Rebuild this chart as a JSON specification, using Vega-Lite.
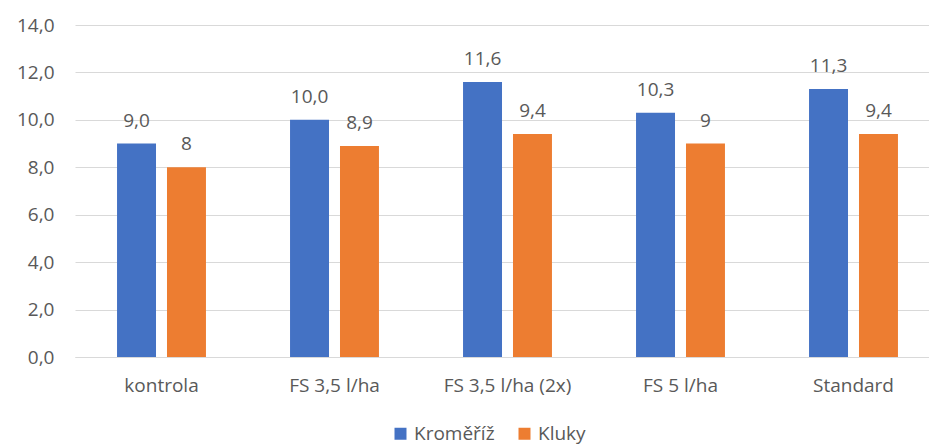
{
  "$schema": "https://vega.github.io/schema/vega-lite/v6.json",
  "width": 854,
  "height": 332,
  "autosize": {"type": "none"},
  "padding": {"left": 75, "top": 25, "right": 0, "bottom": 88},
  "background": "white",
  "config": {
    "font": "Open Sans",
    "view": {"stroke": null}
  },
  "data": {
    "values": [
      {"treatment": "kontrola", "site": "Kroměříž", "value": 9.0, "label": "9,0"},
      {"treatment": "kontrola", "site": "Kluky", "value": 8.0, "label": "8"},
      {"treatment": "FS 3,5 l/ha", "site": "Kroměříž", "value": 10.0, "label": "10,0"},
      {"treatment": "FS 3,5 l/ha", "site": "Kluky", "value": 8.9, "label": "8,9"},
      {"treatment": "FS 3,5 l/ha (2x)", "site": "Kroměříž", "value": 11.6, "label": "11,6"},
      {"treatment": "FS 3,5 l/ha (2x)", "site": "Kluky", "value": 9.4, "label": "9,4"},
      {"treatment": "FS 5 l/ha", "site": "Kroměříž", "value": 10.3, "label": "10,3"},
      {"treatment": "FS 5 l/ha", "site": "Kluky", "value": 9.0, "label": "9"},
      {"treatment": "Standard", "site": "Kroměříž", "value": 11.3, "label": "11,3"},
      {"treatment": "Standard", "site": "Kluky", "value": 9.4, "label": "9,4"}
    ]
  },
  "encoding": {
    "x": {
      "field": "treatment",
      "type": "nominal",
      "sort": null,
      "scale": {"paddingInner": 0.486, "paddingOuter": 0.243, "range": [0, 865]},
      "axis": {
        "title": null,
        "labelAngle": 0,
        "labelFontSize": 19,
        "labelColor": "#595959",
        "labelPadding": 19,
        "ticks": false,
        "domain": true,
        "domainColor": "#D9D9D9",
        "domainWidth": 1
      }
    },
    "xOffset": {
      "field": "site",
      "type": "nominal",
      "sort": ["Kroměříž", "Kluky"],
      "scale": {"paddingInner": 0.22, "paddingOuter": 0}
    },
    "y": {
      "field": "value",
      "type": "quantitative",
      "scale": {"domain": [0, 14]},
      "axis": {
        "title": null,
        "values": [0, 2, 4, 6, 8, 10, 12, 14],
        "labelExpr": "replace(format(datum.value, '.1f'), '.', ',')",
        "labelFontSize": 19,
        "labelColor": "#595959",
        "labelPadding": 21,
        "ticks": false,
        "domain": false,
        "grid": true,
        "gridColor": "#D9D9D9",
        "gridWidth": 1
      }
    }
  },
  "layer": [
    {
      "mark": {"type": "bar"},
      "encoding": {
        "color": {
          "field": "site",
          "type": "nominal",
          "scale": {"domain": ["Kroměříž", "Kluky"], "range": ["#4472C4", "#ED7D31"]},
          "legend": {
            "title": null,
            "orient": "none",
            "legendX": 316,
            "legendY": 399,
            "direction": "horizontal",
            "symbolType": "square",
            "symbolSize": 144,
            "symbolStrokeWidth": 0,
            "labelFontSize": 19,
            "labelColor": "#595959",
            "labelOffset": 4,
            "columnPadding": 20
          }
        }
      }
    },
    {
      "mark": {"type": "text", "baseline": "alphabetic", "dy": -17, "fontSize": 19, "color": "#595959"},
      "encoding": {
        "text": {"field": "label"}
      }
    }
  ]
}
